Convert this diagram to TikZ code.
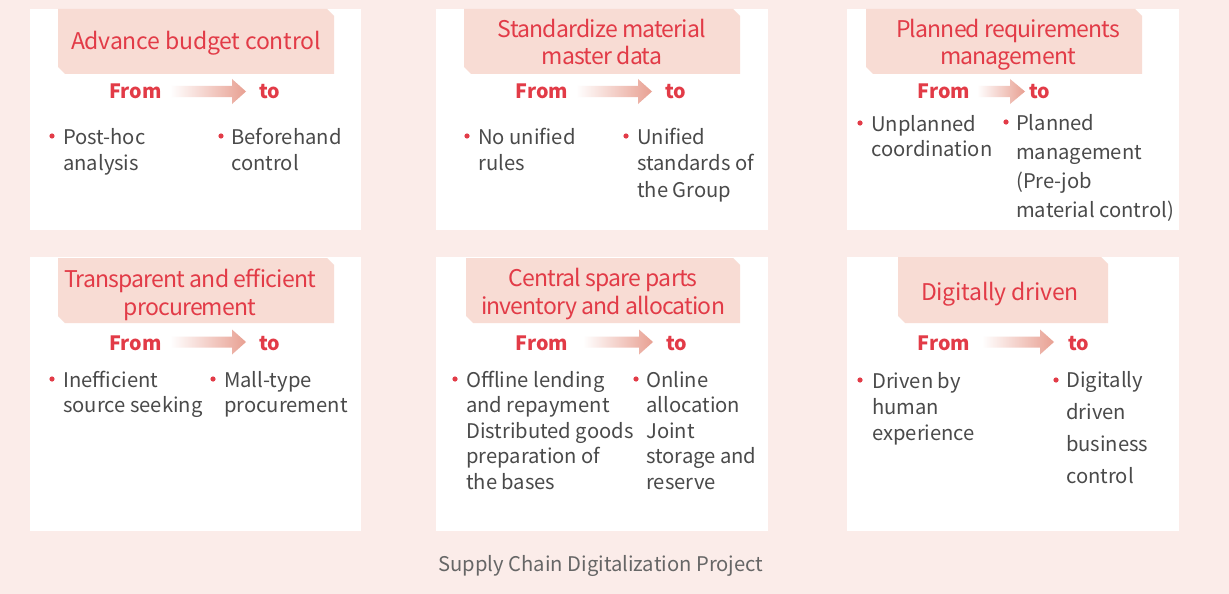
\documentclass[tikz,border=0pt]{standalone}
\usepackage{fontspec}
\setmainfont{Noto Sans CJK SC}
\definecolor{bgc}{HTML}{FBECE9}
\definecolor{hdrc}{HTML}{F8DCD4}
\definecolor{redc}{HTML}{E23B47}
\definecolor{bodyc}{HTML}{4A4A4A}
\definecolor{capc}{HTML}{666666}
\definecolor{arrowc}{HTML}{E8A092}
\newcommand\hdrbox[4]{\fill[hdrc] (#1,#2) -- ({#3-7},#2) -- (#3,{#2+7}) -- (#3,#4) -- ({#1+7},#4) -- (#1,{#4-7}) -- cycle;}
\newcommand\grarrow[4]{\shade[left color=white, right color=arrowc] (#1,{#4-5.5}) -- (#2,{#4-5.5}) -- (#2,{#4-12.5}) -- (#3,#4) -- (#2,{#4+12.5}) -- (#2,{#4+5.5}) -- (#1,{#4+5.5}) -- cycle;}
\tikzset{
  panel/.style={fill=white},
  body/.style={anchor=base west, inner sep=0, align=left, text=bodyc, font=\fontsize{20.2}{#1}\selectfont},
  body/.default=26,
  ttl/.style={anchor=base, inner sep=0, align=center, text=redc, font=\fontsize{23}{28}\selectfont\addfontfeature{LetterSpace=-1}},
  ttltwo/.style={anchor=base, inner sep=0, align=center, text=redc, font=\fontsize{23}{28}\selectfont\addfontfeature{LetterSpace=-3.6}},
  ft/.style={anchor=base, inner sep=0, text=redc, font=\fontsize{19.7}{26}\selectfont\bfseries},
  bul/.style={circle, fill=redc, inner sep=0, minimum size=5.2pt},
  captext/.style={anchor=base, inner sep=0, text=capc, font=\fontsize{20.2}{26}\selectfont}
}
\begin{document}
\begin{tikzpicture}[x=1pt,y=-1pt]
\fill[bgc] (0,0) rectangle (1229,594);
\useasboundingbox (0,0) rectangle (1229,594);
% panels
\fill[panel] (30,9) rectangle (361,230);
\fill[panel] (436,9) rectangle (768,230);
\fill[panel] (847,9) rectangle (1179,230);
\fill[panel] (30,257) rectangle (361,531);
\fill[panel] (436,257) rectangle (768,531);
\fill[panel] (847,257) rectangle (1179,531);
% headers
\hdrbox{58}{9}{334}{74}
\hdrbox{464}{9}{740}{74}
\hdrbox{866}{9}{1142}{74}
\hdrbox{58}{258}{334}{323}
\hdrbox{466}{258}{740}{323}
\hdrbox{898}{257}{1108}{323}
\node[ttl] (t1) at (196,50) {Advance budget control};
\node[ttltwo] (t2) at (602,65) {Standardize material\\master data};
\node[ttltwo] (t3) at (1008,65) {Planned requirements\\management};
\node[ttltwo] (t4) at (190,315) {Transparent and efficient\\procurement};
\node[ttltwo] (t5) at (603,314) {Central spare parts\\inventory and allocation};
\node[ttl] (t6) at (1000,300) {Digitally driven};
% from / to
\node[ft] (f1) at (135.5,99) {From}; \node[ft] (o1) at (269.5,99) {to};
\node[ft] (f2) at (542,99) {From};   \node[ft] (o2) at (676,99) {to};
\node[ft] (f3) at (944,99) {From};   \node[ft] (o3) at (1039.5,99) {to};
\node[ft] (f4) at (135.5,350) {From}; \node[ft] (o4) at (269.5,350) {to};
\node[ft] (f5) at (542,350) {From};   \node[ft] (o5) at (677,350) {to};
\node[ft] (f6) at (944,350) {From};   \node[ft] (o6) at (1079,350) {to};
\grarrow{170}{232}{246}{91.5}
\grarrow{576}{638}{652}{91.5}
\grarrow{977}{1010}{1025}{91.5}
\grarrow{170}{232}{246}{342}
\grarrow{583}{639}{653}{342}
\grarrow{982}{1040}{1054}{342}
% bullets and texts (anchor = baseline of the last line)
\node[bul] (b1l) at (52,136) {};  \node[body] (x1l) at (63,170) {Post-hoc\\analysis};
\node[bul] (b1r) at (221,136) {}; \node[body] (x1r) at (231,170) {Beforehand\\control};
\node[bul] (b2l) at (467,136) {}; \node[body] (x2l) at (478,170) {No unified\\rules};
\node[bul] (b2r) at (626,136) {}; \node[body=26.5] (x2r) at (637,197) {Unified\\standards of\\the Group};
\node[bul] (b3l) at (860,123) {}; \node[body=25] (x3l) at (871,156) {Unplanned\\coordination};
\node[bul] (b3r) at (1006,122) {}; \node[body=29] (x3r) at (1016,217) {Planned\\management\\(Pre-job\\material control)};
\node[bul] (b4l) at (52,379) {};  \node[body=25] (x4l) at (63,412) {Inefficient\\source seeking};
\node[bul] (b4r) at (213,379) {}; \node[body=25] (x4r) at (224,412) {Mall-type\\procurement};
\node[bul] (b5l) at (455,379) {}; \node[body=25.5] (x5l) at (466,489) {Offline lending\\and repayment\\Distributed goods\\preparation of\\the bases};
\node[bul] (b5r) at (636,379) {}; \node[body=25.5] (x5r) at (646,489) {Online\\allocation\\Joint\\storage and\\reserve};
\node[bul] (b6l) at (860,380) {}; \node[body=26] (x6l) at (872,440) {Driven by\\human\\experience};
\node[bul] (b6r) at (1056,380) {}; \node[body=31.7] (x6r) at (1066,483) {Digitally\\driven\\business\\control};
\node[captext] (capt) at (601,571) {Supply Chain Digitalization Project};
\end{tikzpicture}
\end{document}
